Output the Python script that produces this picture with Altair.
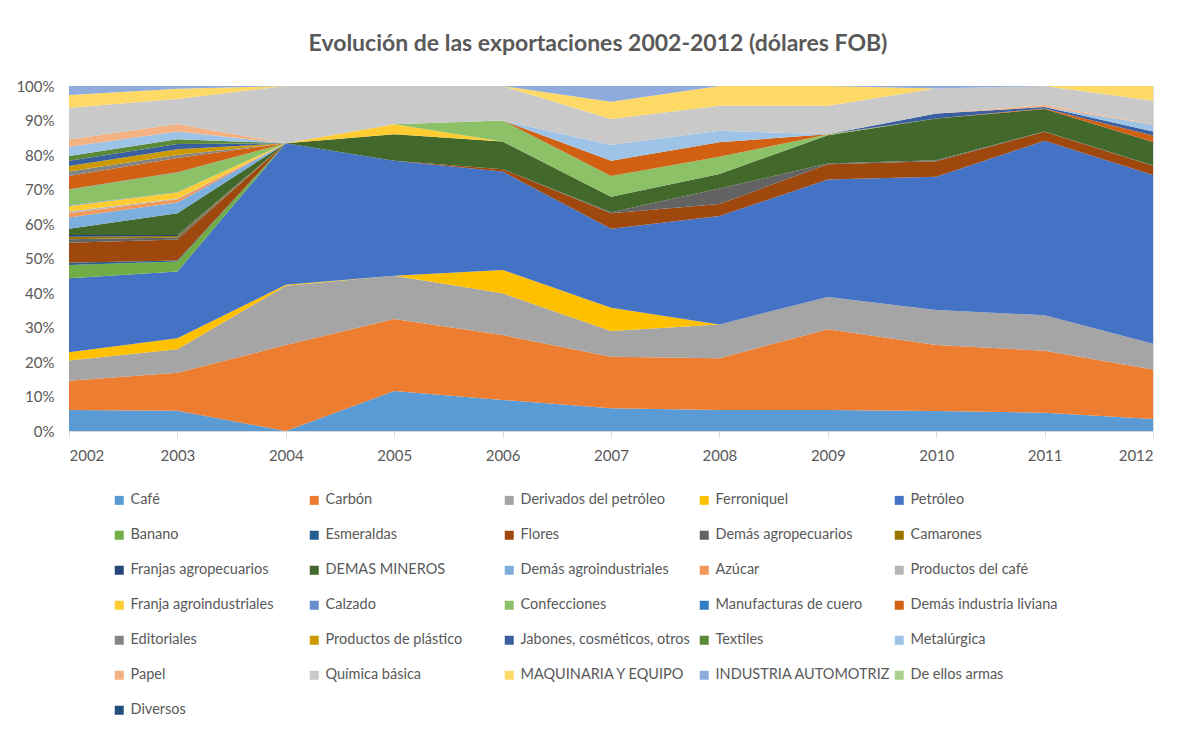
import altair as alt
import pandas as pd

years = [2002, 2003, 2004, 2005, 2006, 2007, 2008, 2009, 2010, 2011, 2012]

series_names = [
    "Café", "Carbón", "Derivados del petróleo", "Ferroniquel", "Petróleo",
    "Banano", "Esmeraldas", "Flores", "Demás agropecuarios", "Camarones",
    "Franjas agropecuarios", "DEMAS MINEROS", "Demás agroindustriales", "Azúcar", "Productos del café",
    "Franja agroindustriales", "Calzado", "Confecciones", "Manufacturas de cuero", "Demás industria liviana",
    "Editoriales", "Productos de plástico", "Jabones, cosméticos, otros", "Textiles", "Metalúrgica",
    "Papel", "Química básica", "MAQUINARIA Y EQUIPO", "INDUSTRIA AUTOMOTRIZ", "De ellos armas",
    "Diversos",
]

series_colors = [
    "#5B9BD5", "#ED7D31", "#A5A5A5", "#FFC000", "#4472C4",
    "#70AD47", "#255E91", "#9E480E", "#636363", "#997300",
    "#264478", "#43682B", "#7CAFDD", "#F1975A", "#B7B7B7",
    "#FFCD33", "#698ED0", "#8CC168", "#327DC2", "#D26012",
    "#848484", "#CC9A00", "#3A5FA0", "#5A8A39", "#9DC3E6",
    "#F4B183", "#C9C9C9", "#FFD966", "#8FAADC", "#A9D18E",
    "#1F4E79",
]

# shares (%) per year, 2002..2012
cafe = [6.1, 5.9, 0.0, 11.6, 9.0, 6.6, 6.1, 6.1, 5.8, 5.3, 3.5]
carbon = [8.5, 11.0, 24.9, 20.9, 18.8, 14.9, 15.0, 23.4, 19.1, 18.0, 14.4]
derivados = [5.8, 6.8, 17.2, 12.5, 12.1, 7.5, 9.8, 9.4, 10.2, 10.3, 7.5]
ferroniquel = [2.4, 3.2, 0.3, 0.0, 6.8, 6.7, 0.0, 0.0, 0.0, 0.0, 0.0]
petroleo = [21.5, 19.3, 41.0, 33.3, 28.5, 22.9, 31.4, 34.1, 38.6, 50.6, 49.0]
banano = [3.8, 2.9, 0, 0, 0, 0, 0, 0, 0, 0, 0]
esmeraldas = [0.7, 0.3, 0, 0, 0, 0, 0, 0, 0, 0, 0]
flores = [5.8, 6.1, 0, 0, 0.7, 4.5, 3.5, 4.4, 4.5, 2.6, 2.7]
demas_agropecuarios = [1.0, 0.6, 0, 0, 0, 0.3, 4.5, 0.2, 0.3, 0.1, 0.1]
camarones = [0.7, 0.4, 0, 0, 0, 0, 0, 0, 0, 0, 0]
franjas_agropecuarios = [0.5, 0.3, 0, 0, 0, 0, 0, 0, 0, 0, 0]
demas_mineros = [1.8, 6.3, 0, 7.7, 8.0, 4.5, 4.2, 8.2, 12.1, 6.5, 6.8]
demas_agroindustriales = [3.3, 3.1, 0, 0, 0, 0, 0, 0, 0, 0, 0]
azucar = [1.2, 1.0, 0, 0, 0, 0, 0, 0, 0, 0, 0]
productos_cafe = [0.5, 0.2, 0, 0, 0, 0, 0, 0, 0, 0, 0]
franja_agroindustriales = [1.6, 1.7, 0, 2.9, 0, 0, 0, 0, 0, 0, 0]
calzado = [0.2, 0.1, 0, 0, 0, 0, 0, 0, 0, 0, 0]
confecciones = [4.6, 5.7, 0, 0, 6.1, 6.0, 5.0, 0.2, 0, 0, 0]
manufacturas_cuero = [0.1, 0.1, 0, 0, 0, 0, 0, 0, 0, 0, 0]
demas_industria_liviana = [3.8, 4.1, 0, 0, 0, 4.4, 4.2, 0.1, 0, 0.2, 1.9]
editoriales = [1.3, 0.9, 0, 0, 0, 0, 0, 0, 0, 0, 0]
plastico = [1.6, 1.7, 0, 0, 0, 0, 0, 0, 0, 0, 0]
jabones = [1.5, 1.5, 0, 0, 0, 0, 0, 0, 1.4, 0.4, 1.2]
textiles = [1.4, 1.4, 0, 0, 0, 0, 0, 0, 0, 0, 0]
metalurgica = [2.7, 2.2, 0, 0, 0, 4.6, 3.3, 0, 0, 0, 1.9]
papel = [2.1, 2.2, 0, 0, 0, 0, 0, 0, 0, 0.6, 0.2]
quimica = [9.2, 7.2, 16.6, 11.1, 10.0, 7.5, 7.3, 8.3, 7.3, 5.5, 6.8]
maquinaria = [3.7, 3.0, 0, 0, 0, 5.0, 5.7, 5.7, 0, 0, 4.3]
automotriz = [2.6, 0.8, 0, 0, 0, 4.6, 0, 0, 0.7, 0, 0]
armas = [0, 0, 0, 0, 0, 0, 0, 0, 0, 0, 0]
diversos = [0, 0, 0, 0, 0, 0, 0, 0, 0, 0, 0]

series_values = [
    cafe, carbon, derivados, ferroniquel, petroleo,
    banano, esmeraldas, flores, demas_agropecuarios, camarones,
    franjas_agropecuarios, demas_mineros, demas_agroindustriales, azucar, productos_cafe,
    franja_agroindustriales, calzado, confecciones, manufacturas_cuero, demas_industria_liviana,
    editoriales, plastico, jabones, textiles, metalurgica,
    papel, quimica, maquinaria, automotriz, armas,
    diversos,
]

rows = []
for i, (name, vals) in enumerate(zip(series_names, series_values)):
    for y, v in zip(years, vals):
        rows.append({"serie": name, "orden": i, "anio": y, "valor": v})
df = pd.DataFrame(rows)

W, H = 1084, 345
FONT = "Lato"
GRAY = "#595959"

areas = alt.Chart(df).mark_area(interpolate="linear").encode(
    x=alt.X("anio:Q",
            scale=alt.Scale(domain=[2002, 2012], nice=False, zero=False),
            axis=alt.Axis(values=years, format="d", title=None, grid=False,
                          domainColor="#D9D9D9", tickColor="#D9D9D9", tickSize=6,
                          labelFontSize=15, labelColor=GRAY, labelPadding=11,
                          labelFont=FONT)),
    y=alt.Y("valor:Q", stack="normalize",
            scale=alt.Scale(domain=[0, 1], nice=False),
            axis=alt.Axis(values=[i / 10 for i in range(11)], format=".0%", title=None,
                          grid=False, domain=False, ticks=False, labelPadding=15,
                          labelFontSize=15, labelColor=GRAY, labelFont=FONT)),
    color=alt.Color("serie:N",
                    scale=alt.Scale(domain=series_names, range=series_colors),
                    legend=alt.Legend(title=None, orient="none", legendX=43, legendY=407,
                                      columns=5, direction="horizontal", gridAlign="all",
                                      symbolType="square", symbolSize=81, symbolLimit=0,
                                      symbolStrokeWidth=0, labelFontSize=14.5,
                                      labelFont=FONT, labelColor=GRAY, labelOffset=4,
                                      labelLimit=300, rowPadding=20, columnPadding=1,
                                      padding=0)),
    order=alt.Order("orden:Q", sort="ascending"),
)

frame = alt.Chart(pd.DataFrame({"k": [0]})).mark_rect(
    fillOpacity=0, stroke="#D9D9D9", strokeWidth=1, strokeOpacity=1
).encode(
    x=alt.value(-63), x2=alt.value(W + 33), y=alt.value(-79), y2=alt.value(H + 320)
)

chart = alt.layer(frame, areas).properties(
    width=W, height=H,
    title=alt.TitleParams("Evolución de las exportaciones 2002-2012 (dólares FOB)",
                          font=FONT, fontSize=23, fontWeight="bold", color=GRAY,
                          anchor="middle", baseline="alphabetic", offset=-67, dx=-13),
    autosize=alt.AutoSizeParams(type="none"),
    padding={"left": 61, "top": 78, "right": 17, "bottom": 293},
).configure_view(stroke=None).configure(font=FONT)

chart.save("out.html", embed_options={"renderer": "svg", "actions": False})
